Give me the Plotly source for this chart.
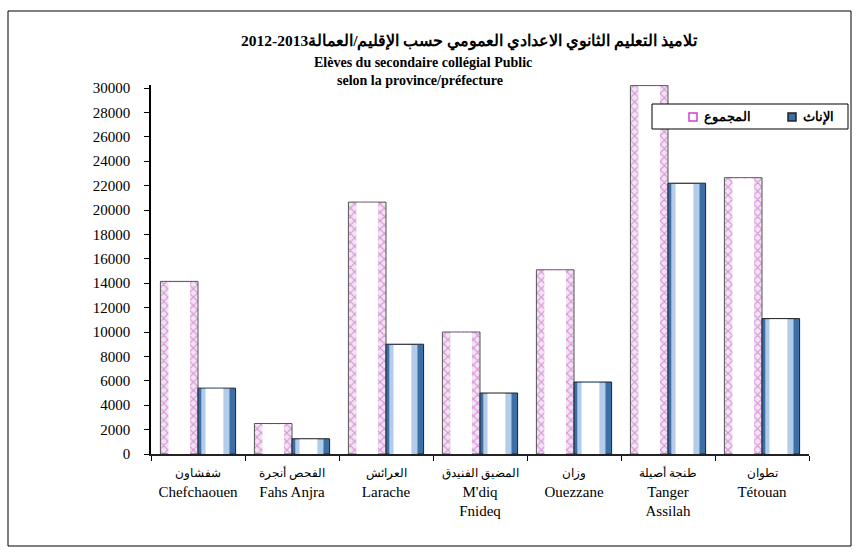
import plotly.graph_objects as go

# ---- data ----
categories = ["Chefchaouen", "Fahs Anjra", "Larache", "M'diq Fnideq", "Ouezzane", "Tanger Assilah", "Tétouan"]
arabic_names = ["شفشاون", "الفحص أنجرة", "العرائش", "المضيق الفنيدق", "وزان", "طنجة أصيلة", "تطوان"]
french_labels = ["Chefchaouen", "Fahs Anjra", "Larache", "M'diq<br>Fnideq", "Ouezzane", "Tanger<br>Assilah", "Tétouan"]
total_values = [14150, 2500, 20650, 10000, 15100, 30200, 22650]
female_values = [5400, 1250, 9000, 5000, 5900, 22200, 11100]
y_ticks = list(range(0, 30001, 2000))
y_ticklabels = [str(v) for v in y_ticks]
series_names = ["المجموع", "الإناث"]
title_ar = "تلاميذ التعليم الثانوي الاعدادي العمومي حسب الإقليم/العمالة2013-2012"
title_fr1 = "Elèves du secondaire collégial Public"
title_fr2 = "selon la province/préfecture"

# ---- layout geometry ----
W, H = 859, 554
ML, MR, MT, MB = 151, 50, 85, 100
PW, PH = W - ML - MR, H - MT - MB


def px(x):
    return (x - ML) / PW


def py(y):
    return (H - MB - y) / PH


SERIF = "Liberation Serif, Times New Roman, DejaVu Serif, serif"

fig = go.Figure()

# total series: outer band with pink squiggle-like texture, white core
fig.add_trace(go.Bar(
    x=categories, y=total_values, offset=-0.4, width=0.4,
    marker=dict(color="white", line=dict(color="#555555", width=1),
                pattern=dict(shape="x", fgcolor="#c43cc4", bgcolor="#f1e4f1", size=6, solidity=0.35)),
    name=series_names[0], hoverinfo="y"))
fig.add_trace(go.Bar(
    x=categories, y=[v - 60 for v in total_values], offset=-0.4 + 0.085, width=0.23,
    marker=dict(color="white", line=dict(width=0)), showlegend=False, hoverinfo="skip"))

# female series: blue cylinder-like shading
fig.add_trace(go.Bar(
    x=categories, y=female_values, offset=0.0, width=0.4,
    marker=dict(color="#3b6fa6", line=dict(color="#222222", width=1)),
    name=series_names[1], hoverinfo="y"))
fig.add_trace(go.Bar(
    x=categories, y=[v - 60 for v in female_values], offset=0.035, width=0.3,
    marker=dict(color="#b3cce9", line=dict(width=0)), showlegend=False, hoverinfo="skip"))
fig.add_trace(go.Bar(
    x=categories, y=[v - 60 for v in female_values], offset=0.08, width=0.19,
    marker=dict(color="white", line=dict(width=0)), showlegend=False, hoverinfo="skip"))

ticktext = [f"<span style='font-size:12px'>{a}</span><br>{f}" for a, f in zip(arabic_names, french_labels)]

fig.update_layout(
    width=W, height=H,
    margin=dict(l=ML, r=MR, t=MT, b=MB),
    paper_bgcolor="white", plot_bgcolor="white",
    barmode="overlay", showlegend=False,
    font=dict(family=SERIF, color="black"),
    xaxis=dict(
        tickmode="array", tickvals=categories, ticktext=ticktext,
        tickson="boundaries", ticks="outside", ticklen=5, tickcolor="black",
        showline=True, linecolor="#222222", linewidth=2, showgrid=False,
        tickfont=dict(family=SERIF, size=15, color="black"), tickangle=0,
        ticklabelstandoff=3,
    ),
    yaxis=dict(
        range=[0, 30250], tickmode="array", tickvals=y_ticks, ticktext=y_ticklabels,
        ticks="outside", ticklen=5, tickcolor="black",
        showline=True, linecolor="black", linewidth=1.5, showgrid=False, zeroline=False,
        tickfont=dict(family=SERIF, size=15, color="black"), ticklabelstandoff=11,
    ),
)

shapes = []
annotations = []

# outer chart border
shapes.append(dict(type="rect", xref="paper", yref="paper",
                   x0=px(8), x1=px(851), y0=py(546), y1=py(11),
                   line=dict(color="black", width=1), fillcolor="rgba(0,0,0,0)", layer="below"))

# titles
annotations.append(dict(text=f"<b>{title_ar}</b>", xref="paper", yref="paper", x=px(469), y=py(42),
                        xanchor="center", yanchor="middle", showarrow=False,
                        font=dict(family=SERIF, size=15.5, color="black")))
annotations.append(dict(text=f"<b>{title_fr1}</b>", xref="paper", yref="paper", x=px(423), y=py(62),
                        xanchor="center", yanchor="middle", showarrow=False,
                        font=dict(family=SERIF, size=14, color="black")))
annotations.append(dict(text=f"<b>{title_fr2}</b>", xref="paper", yref="paper", x=px(420), y=py(81),
                        xanchor="center", yanchor="middle", showarrow=False,
                        font=dict(family=SERIF, size=14, color="black")))

# custom legend
shapes.append(dict(type="rect", xref="paper", yref="paper",
                   x0=px(652), x1=px(848), y0=py(129), y1=py(104),
                   line=dict(color="black", width=1), fillcolor="white", layer="above"))
legend_items = [(series_names[0], 689, "white", "#cc44cc"), (series_names[1], 788, "#3b6fa6", "#222222")]
for name, mx, fill, edge in legend_items:
    shapes.append(dict(type="rect", xref="paper", yref="paper",
                       x0=px(mx), x1=px(mx + 8), y0=py(121), y1=py(113),
                       line=dict(color=edge, width=1.5), fillcolor=fill, layer="above"))
    annotations.append(dict(text=f"<b>{name}</b>", xref="paper", yref="paper", x=px(mx + 13), y=py(117),
                            xanchor="left", yanchor="middle", showarrow=False,
                            font=dict(family=SERIF, size=12.5, color="black")))

fig.update_layout(shapes=shapes, annotations=annotations)
fig.write_html("out.html", config={"displayModeBar": False},
               post_script="document.body.style.margin='0';")
